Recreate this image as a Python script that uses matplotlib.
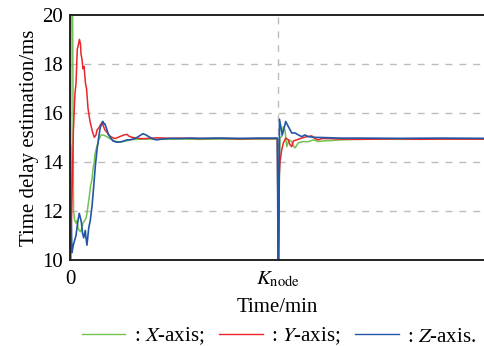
import matplotlib
matplotlib.use('Agg')
import matplotlib.pyplot as plt
from matplotlib.lines import Line2D

plt.rcParams['font.family'] = ['Liberation Serif', 'DejaVu Serif']
plt.rcParams['mathtext.fontset'] = 'stix'

# estimation traces (time in minutes, K_node reset at t = 100)
t_x = [0, 0.25, 0.5, 1.2, 1.7, 2.25, 2.9, 3.35, 3.85, 4.45, 5.05, 5.75, 6.25, 7.05, 7.7, 8.15,
       8.65, 9.3, 9.85, 10.6, 11.05, 11.7, 12.0, 12.5, 13.2, 13.8, 14.4, 15.05, 15.85, 17.0,
       18.25, 20.2, 21.6, 23.4, 25.0, 26.45, 27.9, 28.85, 31.25, 33.65, 38.45, 43.25, 52.9,
       62.5, 72.1, 81.7, 91.35, 99.7, 100.1, 100.95, 101.8, 102.55, 103.35, 104.2, 105.3,
       106.6, 107.45, 108.2, 109.75, 112.15, 114.55, 116.95, 119.35, 122.6, 125.8, 130.6,
       139.4, 149.0, 158.65, 177.9, 199.5]
x_axis = [10.0, 10.0, 21.0, 21.0, 12.0, 11.6, 11.5, 11.6, 11.3, 11.2, 11.15, 11.3, 11.5, 11.6,
          11.7, 11.9, 12.2, 12.6, 13.0, 13.3, 13.7, 14.0, 14.3, 14.5, 14.7, 14.9, 15.0, 15.1,
          15.1, 15.06, 15.0, 14.9, 14.85, 14.8, 14.82, 14.85, 14.87, 14.9, 14.92, 14.92, 14.93,
          14.92, 14.93, 14.92, 14.93, 14.92, 14.93, 14.93, 10.0, 14.98, 15.03, 15.44, 15.3,
          14.62, 14.9, 14.83, 14.65, 14.57, 14.78, 14.83, 14.82, 14.9, 14.83, 14.86, 14.87,
          14.9, 14.92, 14.93, 14.92, 14.93, 14.93]

t_y = [0, 0.35, 0.95, 1.6, 2.4, 2.9, 3.5, 4.1, 4.55, 5.05, 5.3, 5.75, 6.25, 6.75, 7.45, 7.95,
       8.65, 9.15, 9.75, 10.9, 11.7, 12.5, 13.0, 13.95, 14.55, 15.4, 15.85, 16.8, 17.8, 19.25,
       20.2, 21.6, 23.1, 24.5, 25.95, 27.4, 28.35, 29.8, 31.7, 33.65, 36.05, 38.45, 43.25,
       48.1, 52.9, 62.5, 72.1, 81.7, 91.35, 99.7, 100.1, 100.5, 100.95, 101.8, 102.55, 103.7,
       104.95, 105.75, 106.6, 107.35, 109.0, 111.4, 113.8, 116.2, 117.8, 119.35, 121.15,
       125.0, 129.8, 139.4, 149.0, 158.65, 168.25, 177.9, 187.5, 199.5]
y_axis = [10.0, 10.0, 12.5, 15.2, 16.8, 17.2, 18.6, 18.8, 19.0, 18.8, 18.4, 18.2, 17.8, 17.9,
          17.2, 17.0, 16.2, 15.9, 15.6, 15.2, 15.0, 15.1, 15.3, 15.4, 15.5, 15.6, 15.5, 15.3,
          15.2, 15.05, 15.0, 14.95, 15.0, 15.05, 15.1, 15.12, 15.05, 15.0, 14.98, 14.95, 14.95,
          14.97, 14.98, 14.96, 14.97, 14.95, 14.96, 14.94, 14.95, 14.95, 10.0, 13.3, 14.0,
          14.5, 14.76, 14.97, 14.9, 14.7, 14.62, 14.85, 14.9, 14.97, 15.03, 15.06, 14.95, 14.9,
          14.95, 14.95, 14.93, 14.92, 14.93, 14.94, 14.92, 14.93, 14.93, 14.93]

t_z = [0, 0.15, 0.5, 0.95, 1.6, 2.25, 2.9, 3.35, 3.85, 4.45, 5.05, 5.45, 6.0, 6.6, 7.35, 7.7,
       8.15, 8.65, 9.0, 9.75, 10.6, 11.4, 12.15, 13.0, 13.8, 14.55, 15.4, 15.85, 16.35, 16.8,
       17.8, 18.5, 19.4, 20.7, 22.6, 24.5, 25.95, 27.4, 28.85, 31.25, 33.2, 35.1, 36.5, 38.45,
       40.4, 41.8, 44.2, 48.1, 52.9, 57.7, 62.5, 72.1, 81.7, 91.35, 99.7, 100.0, 100.4, 100.7,
       102.05, 103.0, 103.7, 104.95, 106.6, 108.2, 109.75, 111.4, 112.95, 114.4, 117.8, 122.6,
       129.8, 139.4, 158.65, 177.9, 199.5]
z_axis = [10.0, 14.7, 12.0, 10.3, 10.6, 10.8, 11.0, 11.3, 11.6, 11.9, 11.7, 11.55, 11.1, 10.9,
          11.2, 10.9, 10.6, 11.0, 11.3, 11.6, 12.2, 13.0, 13.8, 14.5, 15.0, 15.4, 15.6, 15.65,
          15.55, 15.55, 15.3, 15.1, 15.0, 14.85, 14.8, 14.82, 14.85, 14.9, 14.9, 14.95, 15.05,
          15.15, 15.1, 15.0, 14.92, 14.9, 14.93, 14.96, 14.95, 14.97, 14.96, 14.97, 14.96,
          14.97, 14.97, 10.0, 10.0, 15.74, 15.1, 15.4, 15.65, 15.44, 15.18, 15.18, 15.1, 15.03,
          15.1, 15.03, 15.0, 14.99, 14.97, 14.97, 14.96, 14.97, 14.96]

k_node = 100
xticks = [0, k_node]
xtick_labels = ['0', r'$K_{\mathrm{node}}$']
yticks = [10, 12, 14, 16, 18, 20]

c_x, c_y, c_z = '#72c34f', '#e8262b', '#2456a6'

fig = plt.figure(figsize=(4.85, 3.46), dpi=100)
ax = fig.add_axes([0.1443, 0.249, 0.8557, 0.708])

ax.plot(t_x, x_axis, color=c_x, lw=1.1)
ax.plot(t_y, y_axis, color=c_y, lw=1.1)
ax.plot(t_z, z_axis, color=c_z, lw=1.2)

ax.set_xlim(0, 199.5)
ax.set_ylim(10, 20)
ax.set_yticks(yticks)
ax.set_xticks(xticks)
ax.set_xticklabels(xtick_labels)
ax.tick_params(length=0, labelsize=15, pad=5)
ax.tick_params(axis='x', pad=7)

for y in yticks[1:-1]:
    ax.axhline(y, color='#bdbdbd', lw=1.0, ls=(0, (5, 5)), zorder=0)
ax.axvline(k_node, color='#bdbdbd', lw=1.0, ls=(0, (5, 5)), zorder=0)

for side in ['left', 'top', 'bottom']:
    ax.spines[side].set_linewidth(1.4)
    ax.spines[side].set_color('#222222')
ax.spines['right'].set_visible(False)

ax.set_ylabel('Time delay estimation/ms', fontsize=15, labelpad=2)
ax.set_xlabel('Time/min', fontsize=15, labelpad=6)

handles = [Line2D([], [], color=c, lw=1.0) for c in (c_x, c_y, c_z)]
labels = [r': $X$-axis;', r': $Y$-axis;', r': $Z$-axis.']
fig.legend(handles, labels, loc='lower center', bbox_to_anchor=(0.575, -0.058), ncol=3,
           frameon=False, fontsize=15, handlelength=2.1, handletextpad=0.4,
           columnspacing=0.7)

fig.savefig('out.png', dpi=100)
